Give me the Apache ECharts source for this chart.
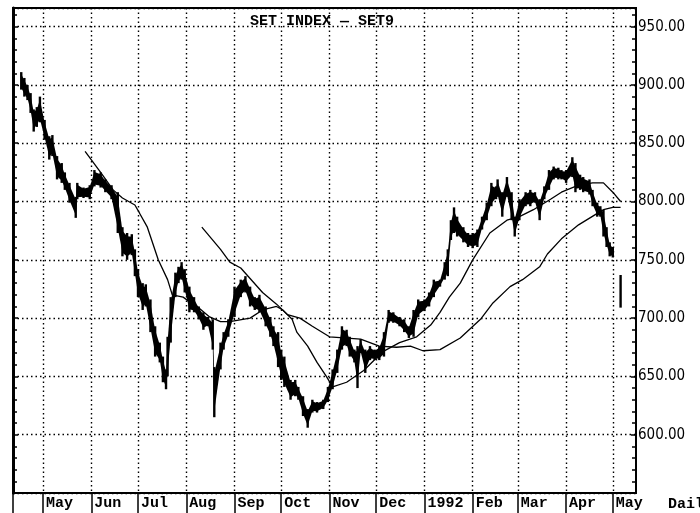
<!DOCTYPE html>
<html><head><meta charset="utf-8">
<script src="https://cdn.jsdelivr.net/npm/echarts@6/dist/echarts.min.js"></script>
<style>html,body{margin:0;padding:0;background:#fff}#c{width:700px;height:513px}</style>
</head><body><div id="c"></div>
<script>
// x values are calendar days counted from 1 May 1991
const barDays  = [-14,-12,-10,-8,-6,-4,-2,1,4,6,9,12,14,17,21,22,26,30,33,37,40,44,48,51,54,57,59,61,64,66,69,72,75,77,79,80,82,85,87,89,91,94,97,100,103,106,109,110,114,116,119,123,127,130,133,136,139,143,146,148,151,153,155,159,162,164,167,170,173,176,180,183,186,189,192,195,197,200,202,204,207,210,213,216,219,222,225,229,232,235,238,241,245,248,251,255,258,260,262,264,266,270,273,276,279,282,285,288,291,292,295,298,301,303,306,310,313,316,319,322,325,328,331,333,336,340,342,345,347,351,353,356,358,360,362,364,366,371];
const barLows  = [896,890,887,876,860,864,868,853,836,839,819,816,810,799,786,802,803,802,813,812,808,802,773,753,750,754,736,718,707,710,688,667,662,645,639,650,679,718,730,733,722,705,705,699,690,693,673,615,656,673,684,701,718,722,710,707,705,693,684,676,658,647,641,630,633,630,616,606,619,619,622,628,639,653,673,676,667,662,640,670,653,664,664,664,667,696,696,693,688,683,684,701,706,710,718,727,733,736,767,773,770,765,761,760,761,776,784,796,802,804,787,804,784,770,784,796,796,799,784,802,810,819,819,819,816,821,808,810,808,806,796,787,787,770,761,753,752,709];
const barHighs = [911,906,900,893,879,881,890,870,856,857,839,833,825,816,804,816,812,814,827,825,819,814,808,778,773,772,759,742,730,729,716,693,679,667,656,684,718,739,744,748,742,727,718,710,705,701,699,658,679,688,699,727,733,736,727,718,720,710,701,693,688,673,667,647,647,641,633,622,630,628,630,641,656,673,693,690,684,673,676,682,673,676,673,676,688,707,705,701,699,693,707,716,716,722,733,733,748,759,784,795,787,778,773,773,776,787,799,816,813,819,808,821,808,787,802,808,810,808,802,813,827,830,829,827,827,838,833,823,821,819,810,799,796,793,778,765,761,737];

const maShortDays   = [27,37,45,51,59,62,67,69,74,80,83,90,94,99,107,114,120,133,141,150,154,160,163,170,176,182,186,195,206,218,229,240,249,255,261,268,276,287,298,306,315,326,333,344,353,360,366,371];
const maShortValues = [843,825,810,803,797,790,778,770,750,733,720,718,714,710,701,697,697,700,707,710,707,699,688,676,662,650,641,645,655,671,679,684,694,705,718,730,750,773,784,787,793,802,808,814,816,816,808,800];
const maLongDays    = [102,114,120,127,133,141,150,157,165,173,184,193,204,216,227,236,244,255,268,281,289,300,308,319,324,333,344,355,360,366,371];
const maLongValues  = [778,759,748,743,734,722,712,703,700,693,684,683,682,676,675,676,672,673,683,699,713,727,733,744,755,768,780,789,793,795,795];

const monthDays   = [0,31,61,92,123,153,184,214,245,276,305,336,366];
const monthLabels = ['May','Jun','Jul','Aug','Sep','Oct','Nov','Dec','1992','Feb','Mar','Apr','May'];
const yLabelValues = [600,650,700,750,800,850,900,950];

const chart = echarts.init(document.getElementById('c'));
const monoFont = "'Liberation Mono', 'DejaVu Sans Mono', monospace";
const numFont = "'DejaVu Sans Condensed', 'Liberation Sans Narrow', 'DejaVu Sans', sans-serif";
const dotted = {color:'#000', width:1.4, type:[1.5,3]};

chart.setOption({
  animation:false,
  backgroundColor:'#fff',
  title:{text:'SET INDEX — SET9', left:245, top:9,
    textStyle:{fontFamily:monoFont, fontWeight:'bold', fontSize:15, color:'#000'}},
  graphic:[{type:'text', left:668, top:497,
    style:{text:'Daily', font:"bold 15px 'Liberation Mono', monospace", fill:'#000'}}],
  grid:{left:13, right:64, top:8, bottom:20, show:true, borderColor:'#000', borderWidth:2, backgroundColor:'transparent'},
  xAxis:{type:'value', min:-19.3, max:380.9,
    axisLine:{show:true, onZero:false, lineStyle:{color:'#000', width:2}},
    axisTick:{show:true, customValues:[-19.3].concat(monthDays), length:20, inside:false, lineStyle:{color:'#000', width:1.5}},
    axisLabel:{show:true, customValues:monthDays, formatter:v => monthLabels[monthDays.indexOf(v)] || '',
      align:'left', verticalAlign:'top', margin:3, padding:[0,0,0,3],
      fontFamily:monoFont, fontWeight:'bold', fontSize:15, color:'#000'},
    splitLine:{show:true, lineStyle:dotted}},
  yAxis:[
    {type:'value', position:'right', min:550, max:966, interval:50,
     axisLine:{show:true, onZero:false, lineStyle:{color:'#000', width:2}},
     axisTick:{show:true, inside:true, length:5, lineStyle:{color:'#000', width:1.5}},
     minorTick:{show:true, splitNumber:5, length:4, lineStyle:{color:'#000', width:1.5}},
     axisLabel:{show:true, margin:2, formatter:v => yLabelValues.indexOf(v) >= 0 ? v.toFixed(2) : '',
       fontFamily:numFont, fontSize:15, color:'#000'},
     splitLine:{show:true, lineStyle:dotted}},
    {type:'value', position:'left', min:550, max:966, interval:50,
     axisLine:{show:true, onZero:false, lineStyle:{color:'#000', width:3}},
     axisTick:{show:true, inside:true, length:5, lineStyle:{color:'#000', width:1.5}},
     minorTick:{show:true, splitNumber:5, length:4, lineStyle:{color:'#000', width:1.5}},
     axisLabel:{show:false}, splitLine:{show:false}}
  ],
  series:[
    {type:'custom', yAxisIndex:0,
     data: barDays.map((d,i) => [d, barLows[i], barHighs[i]]),
     encode:{x:0, y:[1,2]},
     renderItem:(params, api) => {
       const i = params.dataIndex;
       const top = api.coord([api.value(0), api.value(2)]);
       const bot = api.coord([api.value(0), api.value(1)]);
       const children = [{type:'rect', shape:{x:top[0]-1.2, y:top[1], width:2.4, height:Math.max(1, bot[1]-top[1])},
               style:{fill:'#000'}}];
       if (i < barDays.length - 1 && barDays[i+1] - barDays[i] <= 4) {
         const nTop = api.coord([barDays[i+1], barHighs[i+1]]);
         const nBot = api.coord([barDays[i+1], barLows[i+1]]);
         const inset = 0.12;
         const t0 = top[1] + (bot[1]-top[1])*inset, b0 = bot[1] - (bot[1]-top[1])*inset;
         const t1 = nTop[1] + (nBot[1]-nTop[1])*inset, b1 = nBot[1] - (nBot[1]-nTop[1])*inset;
         children.push({type:'polygon', shape:{points:[[top[0],t0],[nTop[0],t1],[nTop[0],b1],[top[0],b0]]},
               style:{fill:'#000'}});
       }
       return {type:'group', children};
     }},
    {type:'line', yAxisIndex:0, showSymbol:false, symbol:'none',
     data: maShortDays.map((d,i) => [d, maShortValues[i]]),
     lineStyle:{color:'#000', width:1.3}},
    {type:'line', yAxisIndex:0, showSymbol:false, symbol:'none',
     data: maLongDays.map((d,i) => [d, maLongValues[i]]),
     lineStyle:{color:'#000', width:1.3}}
  ]
});
</script></body></html>
